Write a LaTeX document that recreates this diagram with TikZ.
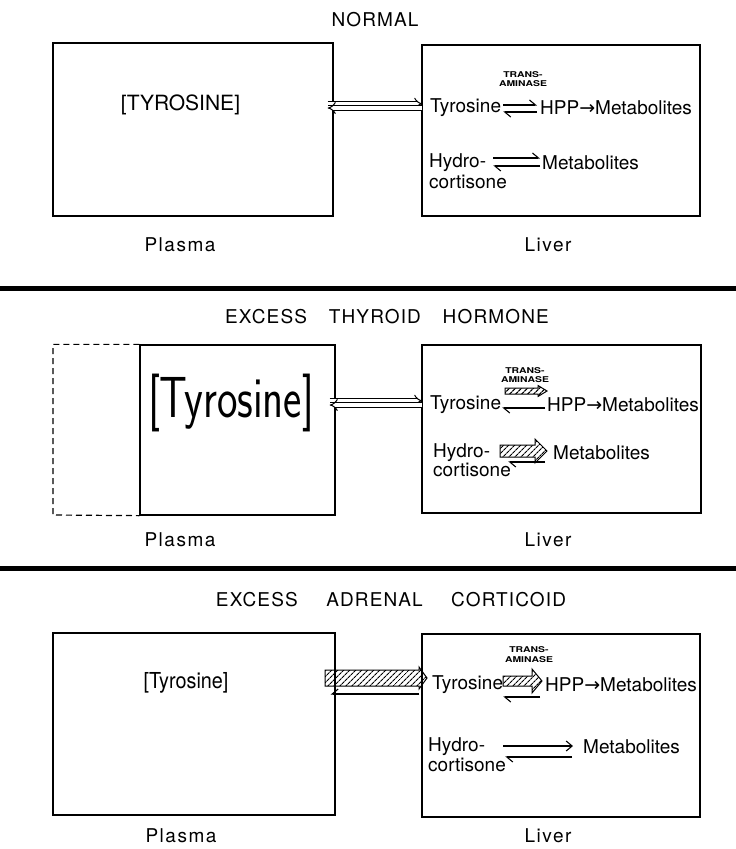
\documentclass[tikz,border=0pt]{standalone}
\usepackage{fontspec}
\usepackage{graphicx}
\setmainfont{TeX Gyre Heros}
\newfontfamily\arrowfont{DejaVu Sans}
\usetikzlibrary{arrows.meta,patterns.meta,positioning,calc}

\tikzset{
  box/.style={draw, line width=1.3pt, inner sep=0pt},
  lbl/.style={inner sep=0pt, anchor=west, font=\fontsize{19}{21}\selectfont},
  title/.style={font=\fontsize{19}{21}\selectfont\addfontfeature{LetterSpace=6}},
  placelbl/.style={font=\fontsize{19}{21}\selectfont\addfontfeature{LetterSpace=8}},
  enzyme/.style={font=\fontsize{8}{9.5}\bfseries\selectfont, align=center, inner sep=0pt},
  harp/.style={line width=1.1pt, -{Straight Barb[harpoon, length=6pt, width=10pt]}},
  harpup/.style={line width=1.1pt, -{Straight Barb[harpoon, swap, length=6pt, width=10pt]}},
  fwd/.style={line width=1.1pt, -{Straight Barb[length=6pt, width=10pt]}},
  hollow/.style={double, double distance=3.2pt, line width=1pt, -{Implies}},
  hatch/.style={draw, line width=1pt, fill=white, pattern={Lines[angle=45, distance=4pt, line width=1.2pt]}},
  sep/.style={line width=5pt}
}

% tail x, tip x, centre y, half shaft, head length, half head
\newcommand{\hatcharrow}[6]{%
  \draw[hatch] (#1,#3-#4) -- (#2-#5,#3-#4) -- (#2-#5,#3-#6) -- (#2,#3)
    -- (#2-#5,#3+#6) -- (#2-#5,#3+#4) -- (#1,#3+#4) -- cycle;}
\newcommand{\enzname}{\scalebox{1.3}[1]{TRANS-}\\\scalebox{1.3}[1]{AMINASE}}

\begin{document}
\begin{tikzpicture}[x=1pt, y=-1pt]
  \useasboundingbox (0,0) rectangle (736,849);

  % normal
  \node[title] (titleA) at (375,20) {NORMAL};
  \node[box, minimum width=280pt, minimum height=173pt] (plasmaA) at (193,129.5) {};
  \node[box, minimum width=278pt, minimum height=171pt] (liverA) at (561,130.5) {};
  \node[font=\fontsize{21}{23}\selectfont] (tyrPA) at (180.5,105) {[TYROSINE]};
  \node[lbl] (tyrA) at (430,108) {Tyrosine};
  \node[lbl] (hppA) at (540,108) {HPP{\arrowfont →}Metabolites};
  \node[enzyme] (enzA) at (523,79) {\enzname};
  \node[lbl] (hydA) at (429,163) {Hydro-};
  \node[lbl] (cortA) at (429,182) {cortisone};
  \node[lbl] (metA) at (542,163) {Metabolites};
  \node[placelbl] (plA) at (180,245) {Plasma};
  \node[placelbl] (livA) at (548,245) {Liver};

  \draw[hollow] ($(plasmaA.east |- tyrA.west)+(-6,-4.2)$) -- ($(liverA.west |- tyrA.west)+(1,-4.2)$);
  \draw[hollow] ($(liverA.west |- tyrA.west)+(1,0)$) -- ($(plasmaA.east |- tyrA.west)+(-6,0)$);
  \draw[harp] ($(tyrA.east)+(2,-3)$) -- ($(hppA.west)+(-3,-3)$);
  \draw[harp] ($(hppA.west)+(-3,4)$) -- ($(tyrA.east)+(2,4)$);
  \draw[harp] ($(hydA.east)+(7,-5)$) -- ($(metA.west)+(-2,-5)$);
  \draw[harp] ($(metA.west)+(-2,3)$) -- ($(hydA.east)+(7,3)$);

  \draw[sep] (0,288) -- (736,288);

  % excess thyroid hormone
  \node[title] (titleB) at (387,317) {EXCESS\hspace{1.15em}THYROID\hspace{1.15em}HORMONE};
  \node[box, minimum width=195pt, minimum height=170pt] (plasmaB) at (237.5,430) {};
  \draw[dashed, line width=1.2pt, dash pattern=on 6pt off 4pt]
    (plasmaB.north west) -| (53,515) -- (plasmaB.south west);
  \node[box, minimum width=279pt, minimum height=168pt] (liverB) at (561.5,429) {};
  \node[font=\fontsize{58}{58}\sffamily] (tyrPB) at (231,403) {\scalebox{0.75}[1]{[Tyrosine]}};
  \node[lbl] (tyrB) at (430,405) {Tyrosine};
  \node[lbl] (hppB) at (547,405) {HPP{\arrowfont →}Metabolites};
  \node[enzyme] (enzB) at (525,375) {\enzname};
  \node[lbl] (hydB) at (433,453) {Hydro-};
  \node[lbl] (cortB) at (433,470) {cortisone};
  \node[lbl] (metB) at (553,453) {Metabolites};
  \node[placelbl] (plB) at (180,540) {Plasma};
  \node[placelbl] (livB) at (548,540) {Liver};

  \draw[hollow] ($(plasmaB.east |- tyrB.west)+(-6,-4.2)$) -- ($(liverB.west |- tyrB.west)+(1,-4.2)$);
  \draw[hollow] ($(liverB.west |- tyrB.west)+(1,0)$) -- ($(plasmaB.east |- tyrB.west)+(-6,0)$);
  \hatcharrow{505}{547}{391}{3}{9}{5.5}
  \draw[harp] ($(hppB.west)+(-2,3)$) -- ($(tyrB.east)+(1,3)$);
  \hatcharrow{500}{547}{451}{6}{12}{12}
  \draw[harp] ($(metB.west)+(-8,9)$) -- ($(hydB.east)+(18,9)$);

  \draw[sep] (0,568) -- (736,568);

  % excess adrenal corticoid
  \node[title] (titleC) at (391,600) {EXCESS\hspace{1.5em}ADRENAL\hspace{1.5em}CORTICOID};
  \node[box, minimum width=282pt, minimum height=182pt] (plasmaC) at (194,724) {};
  \node[box, minimum width=278pt, minimum height=183pt] (liverC) at (561,725.5) {};
  \node[font=\fontsize{22}{24}\selectfont] (tyrPC) at (186,683) {\scalebox{0.9}[1]{[Tyrosine]}};
  \node[lbl] (tyrC) at (432,685) {Tyrosine};
  \node[lbl] (hppC) at (545,685) {HPP{\arrowfont →}Metabolites};
  \node[enzyme] (enzC) at (529,654.5) {\enzname};
  \node[lbl] (hydC) at (428,747) {Hydro-};
  \node[lbl] (cortC) at (428,765) {cortisone};
  \node[lbl] (metC) at (583,747) {Metabolites};
  \node[placelbl] (plC) at (181,836) {Plasma};
  \node[placelbl] (livC) at (548,836) {Liver};

  \hatcharrow{325}{427}{678}{8}{8}{11}
  \draw[harpup] ($(liverC.west |- tyrC.west)+(-2,9)$) -- ($(plasmaC.east |- tyrC.west)+(-5,9)$);
  \hatcharrow{503}{542}{681}{5}{10}{12}
  \draw[harp] ($(hppC.west)+(-5,12)$) -- ($(tyrC.east)+(0,12)$);
  \draw[fwd] ($(hydC.east)+(18,-1)$) -- ($(metC.west)+(-10,-1)$);
  \draw[harp] ($(metC.west)+(-11,10)$) -- ($(hydC.east)+(20,10)$);
\end{tikzpicture}
\end{document}
